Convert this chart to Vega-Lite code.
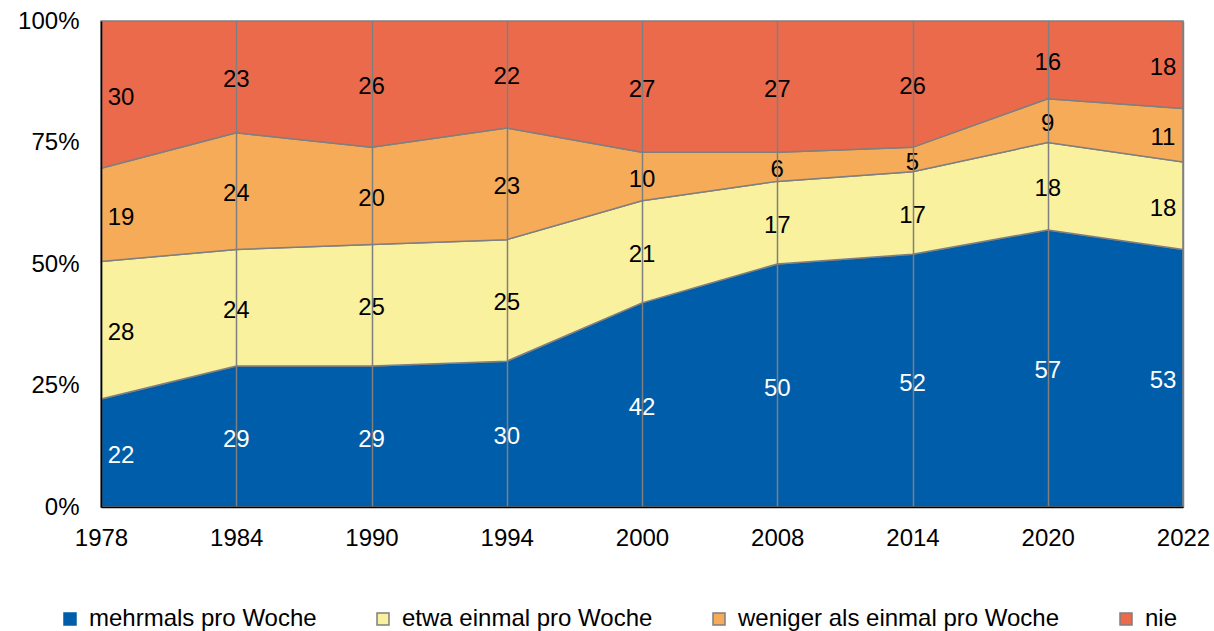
{
  "$schema": "https://vega.github.io/schema/vega-lite/v6.json",
  "width": 1082,
  "height": 486,
  "autosize": {"type": "none"},
  "padding": {"left": 101, "top": 21, "right": 31, "bottom": 124},
  "background": "white",
  "config": {"view": {"stroke": null}, "font": "Liberation Sans"},
  "data": {"values": [
    {"year": "1978", "cat": "mehrmals pro Woche", "v": 22},
    {"year": "1978", "cat": "etwa einmal pro Woche", "v": 28},
    {"year": "1978", "cat": "weniger als einmal pro Woche", "v": 19},
    {"year": "1978", "cat": "nie", "v": 30},
    {"year": "1984", "cat": "mehrmals pro Woche", "v": 29},
    {"year": "1984", "cat": "etwa einmal pro Woche", "v": 24},
    {"year": "1984", "cat": "weniger als einmal pro Woche", "v": 24},
    {"year": "1984", "cat": "nie", "v": 23},
    {"year": "1990", "cat": "mehrmals pro Woche", "v": 29},
    {"year": "1990", "cat": "etwa einmal pro Woche", "v": 25},
    {"year": "1990", "cat": "weniger als einmal pro Woche", "v": 20},
    {"year": "1990", "cat": "nie", "v": 26},
    {"year": "1994", "cat": "mehrmals pro Woche", "v": 30},
    {"year": "1994", "cat": "etwa einmal pro Woche", "v": 25},
    {"year": "1994", "cat": "weniger als einmal pro Woche", "v": 23},
    {"year": "1994", "cat": "nie", "v": 22},
    {"year": "2000", "cat": "mehrmals pro Woche", "v": 42},
    {"year": "2000", "cat": "etwa einmal pro Woche", "v": 21},
    {"year": "2000", "cat": "weniger als einmal pro Woche", "v": 10},
    {"year": "2000", "cat": "nie", "v": 27},
    {"year": "2008", "cat": "mehrmals pro Woche", "v": 50},
    {"year": "2008", "cat": "etwa einmal pro Woche", "v": 17},
    {"year": "2008", "cat": "weniger als einmal pro Woche", "v": 6},
    {"year": "2008", "cat": "nie", "v": 27},
    {"year": "2014", "cat": "mehrmals pro Woche", "v": 52},
    {"year": "2014", "cat": "etwa einmal pro Woche", "v": 17},
    {"year": "2014", "cat": "weniger als einmal pro Woche", "v": 5},
    {"year": "2014", "cat": "nie", "v": 26},
    {"year": "2020", "cat": "mehrmals pro Woche", "v": 57},
    {"year": "2020", "cat": "etwa einmal pro Woche", "v": 18},
    {"year": "2020", "cat": "weniger als einmal pro Woche", "v": 9},
    {"year": "2020", "cat": "nie", "v": 16},
    {"year": "2022", "cat": "mehrmals pro Woche", "v": 53},
    {"year": "2022", "cat": "etwa einmal pro Woche", "v": 18},
    {"year": "2022", "cat": "weniger als einmal pro Woche", "v": 11},
    {"year": "2022", "cat": "nie", "v": 18}
  ]},
  "transform": [
    {"calculate": "indexof(['mehrmals pro Woche','etwa einmal pro Woche','weniger als einmal pro Woche','nie'], datum.cat)", "as": "k"}
  ],
  "encoding": {
    "x": {
      "field": "year",
      "type": "ordinal",
      "scale": {"type": "point", "padding": 0},
      "axis": {
        "title": null,
        "grid": true,
        "gridColor": "#7f7f7f",
        "gridWidth": 1.5,
        "ticks": false,
        "domainColor": "black",
        "domainWidth": 1.5,
        "labelFontSize": 24,
        "labelColor": "black",
        "labelPadding": 19,
        "labelAngle": 0,
        "zindex": 1
      }
    }
  },
  "layer": [
    {
      "mark": {"type": "area", "stroke": "#7f7f7f", "strokeWidth": 1.5, "opacity": 1, "fillOpacity": 1},
      "encoding": {
        "y": {
          "field": "v",
          "type": "quantitative",
          "stack": "normalize",
          "scale": {"domain": [0, 1], "nice": false},
          "axis": {
            "title": null,
            "format": ".0%",
            "values": [0, 0.25, 0.5, 0.75, 1],
            "grid": false,
            "ticks": false,
            "domainColor": "black",
            "domainWidth": 1.5,
            "labelFontSize": 24,
            "labelColor": "black",
            "labelPadding": 22,
            "zindex": 1
          }
        },
        "color": {
          "field": "cat",
          "type": "nominal",
          "scale": {
            "domain": ["mehrmals pro Woche", "etwa einmal pro Woche", "weniger als einmal pro Woche", "nie"],
            "range": ["#005DA9", "#F9F19D", "#F6AB59", "#EC6A4C"]
          },
          "legend": {
            "orient": "none",
            "legendX": -43,
            "legendY": 586,
            "direction": "horizontal",
            "title": null,
            "symbolType": "square",
            "symbolSize": 144,
            "symbolStrokeColor": "#7f7f7f",
            "symbolStrokeWidth": 1.5,
            "symbolOpacity": 1,
            "labelFontSize": 24,
            "labelColor": "black",
            "labelLimit": 0,
            "labelOffset": 7,
            "columnPadding": 54,
            "encode": {
              "symbols": {
                "update": {
                  "stroke": {"signal": "datum.value === 'mehrmals pro Woche' ? '#005DA9' : '#7f7f7f'"}
                }
              }
            }
          }
        },
        "order": {"field": "k", "type": "quantitative"}
      }
    },
    {
      "transform": [
        {"stack": "v", "groupby": ["year"], "sort": [{"field": "k", "order": "ascending"}], "offset": "normalize", "as": ["y0", "y1"]},
        {"calculate": "(datum.y0 + datum.y1) / 2", "as": "mid"}
      ],
      "encoding": {
        "y": {"field": "mid", "type": "quantitative"},
        "text": {"field": "v", "type": "quantitative"},
        "color": {"condition": {"test": "datum.cat === 'mehrmals pro Woche'", "value": "white"}, "value": "black"}
      },
      "layer": [
        {"transform": [{"filter": "datum.year !== '1978' && datum.year !== '2022'"}], "mark": {"type": "text", "fontSize": 24, "baseline": "middle", "align": "center", "dy": 3}},
        {"transform": [{"filter": "datum.year === '1978'"}], "mark": {"type": "text", "fontSize": 24, "baseline": "middle", "align": "center", "dx": 20, "dy": 3}},
        {"transform": [{"filter": "datum.year === '2022'"}], "mark": {"type": "text", "fontSize": 24, "baseline": "middle", "align": "center", "dx": -20, "dy": 3}}
      ]
    }
  ]
}
